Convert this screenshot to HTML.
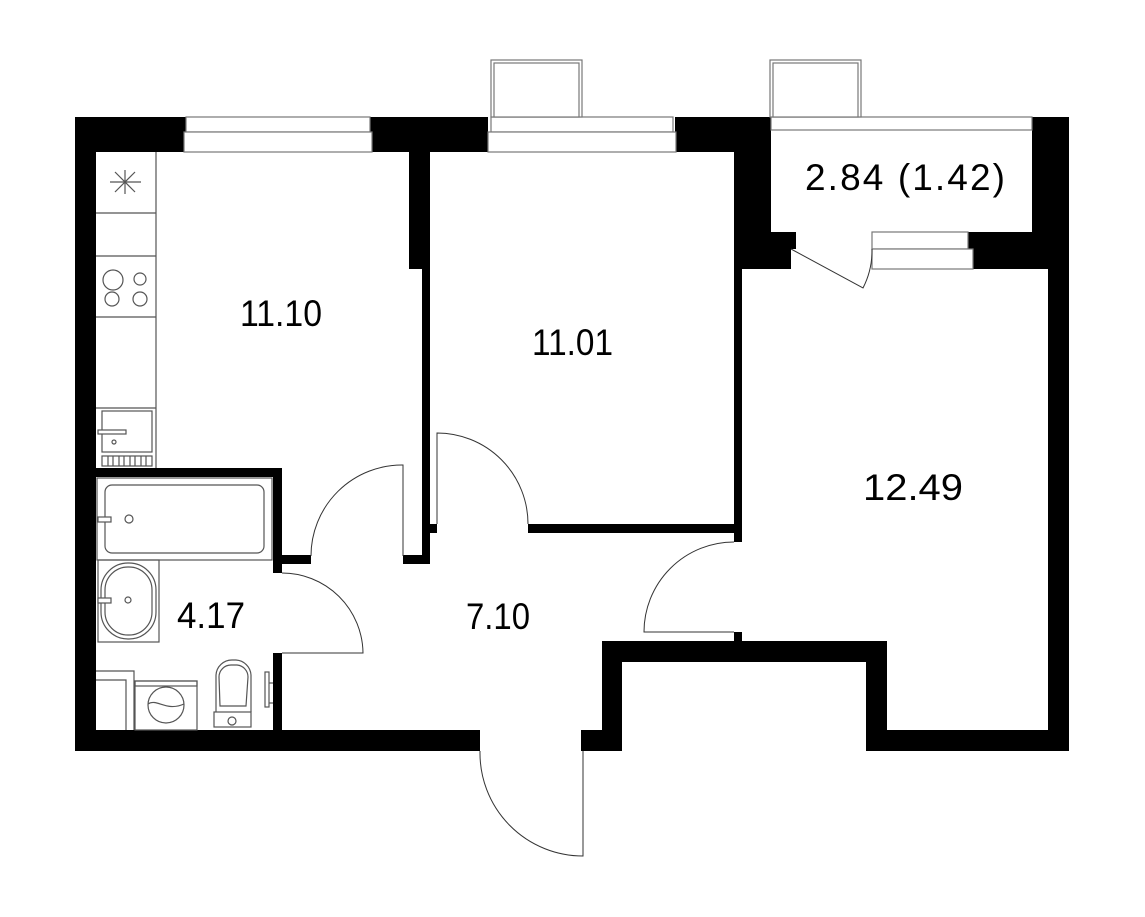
<!DOCTYPE html>
<html><head><meta charset="utf-8"><style>
html,body{margin:0;padding:0;background:#fff;}
svg{display:block;}
text{font-family:"Liberation Sans",sans-serif;font-size:37px;fill:#000;}
</style></head><body>
<svg width="1145" height="917" viewBox="0 0 1145 917" xmlns="http://www.w3.org/2000/svg">
<g fill="#000">
<rect x="75" y="117" width="21" height="634"/>
<rect x="75" y="117" width="111" height="35"/>
<rect x="370" y="117" width="118" height="35"/>
<rect x="675" y="117" width="96" height="35"/>
<rect x="409" y="152" width="21" height="117"/>
<rect x="422" y="152" width="8" height="412"/>
<rect x="403" y="555" width="27" height="9"/>
<rect x="430" y="524" width="7" height="9"/>
<rect x="528" y="524" width="214" height="9"/>
<rect x="734" y="152" width="8" height="390"/>
<rect x="734" y="152" width="37" height="80"/>
<rect x="734" y="232" width="62" height="17"/>
<rect x="734" y="249" width="57" height="20"/>
<rect x="1032" y="117" width="37" height="115"/>
<rect x="968" y="232" width="101" height="17"/>
<rect x="973" y="249" width="96" height="20"/>
<rect x="1048" y="269" width="21" height="482"/>
<rect x="734" y="632" width="8" height="10"/>
<rect x="602" y="641" width="285" height="21"/>
<rect x="602" y="641" width="20" height="110"/>
<rect x="866" y="641" width="21" height="110"/>
<rect x="866" y="730" width="203" height="21"/>
<rect x="75" y="730" width="405" height="21"/>
<rect x="581" y="730" width="41" height="21"/>
<rect x="96" y="468" width="186" height="9"/>
<rect x="273" y="468" width="9" height="105"/>
<rect x="273" y="555" width="38" height="9"/>
<rect x="273" y="653" width="9" height="77"/>
</g>
<g fill="#fff" stroke="#777" stroke-width="1.2">
<rect x="186" y="117" width="184" height="15"/>
<rect x="184" y="132" width="188" height="20"/>
<rect x="491" y="117" width="182" height="15"/>
<rect x="488" y="132" width="188" height="20"/>
<rect x="771" y="117" width="261" height="13"/>
<rect x="872" y="232" width="96" height="17"/>
<rect x="872" y="249" width="101" height="20"/>
<rect x="491" y="60" width="91" height="57"/>
<rect x="494" y="63" width="85" height="54"/>
<rect x="770" y="60" width="91" height="57"/>
<rect x="773" y="63" width="85" height="54"/>
</g>
<g fill="none" stroke="#333" stroke-width="1">
<path d="M403 556 L403 465 A91 91 0 0 0 311 556"/>
<path d="M437 524 L437 433 A91 91 0 0 1 528 524"/>
<path d="M282 573 A81 81 0 0 1 363 653 L282 653"/>
<path d="M734 542 A90 90 0 0 0 644 632 L734 632"/>
<path d="M583 751 L583 856 A103 103 0 0 1 480 751"/>
<path d="M791 249 L863 288 A82 82 0 0 0 872 249"/>
</g>
<g fill="none" stroke="#555" stroke-width="1.2">
<line x1="156" y1="152" x2="156" y2="468"/>
<line x1="96" y1="213" x2="156" y2="213"/>
<line x1="96" y1="256" x2="156" y2="256"/>
<line x1="96" y1="317" x2="156" y2="317"/>
<line x1="96" y1="408" x2="156" y2="408"/>
<line x1="110" y1="182" x2="141" y2="182"/>
<line x1="125" y1="170" x2="125" y2="194"/>
<line x1="115" y1="172" x2="135" y2="192"/>
<line x1="135" y1="172" x2="115" y2="192"/>
<circle cx="113" cy="280" r="10"/>
<circle cx="140" cy="279" r="6"/>
<circle cx="112" cy="299" r="7"/>
<circle cx="140" cy="299" r="7"/>
<rect x="102" y="411" width="50" height="41"/>
<rect x="98" y="430" width="28" height="4" fill="#fff"/>
<circle cx="114" cy="442" r="2"/>
<rect x="102" y="456" width="50" height="10"/>
<path d="M108 456v10M113 456v10M119 456v10M124 456v10M130 456v10M135 456v10M141 456v10M146 456v10"/>
<rect x="97" y="478" width="175" height="82"/>
<rect x="105" y="485" width="159" height="68" rx="7"/>
<rect x="98" y="517" width="13" height="5" fill="#fff"/>
<circle cx="129" cy="519" r="4"/>
<rect x="98" y="560" width="61" height="82"/>
<rect x="101" y="563" width="55" height="76" rx="27"/>
<rect x="105" y="567" width="47" height="68" rx="23"/>
<rect x="98" y="598" width="13" height="5" fill="#fff"/>
<circle cx="128" cy="600" r="3"/>
<polyline points="96,671 134,671 134,730"/>
<polyline points="96,680 126,680 126,730"/>
<rect x="135" y="681" width="62" height="49"/>
<rect x="135" y="681" width="62" height="5"/>
<circle cx="166" cy="705" r="18"/>
<path d="M148 704 C157 698 166 712 184 704"/>
<path d="M216 712 L216 675 A16 16 0 0 1 232 660 L236 660 A16 16 0 0 1 251 675 L251 712"/>
<path d="M220 706 L219 677 A12 12 0 0 1 231 665 L237 665 A12 12 0 0 1 248 677 L246 706 Z"/>
<rect x="214" y="712" width="37" height="15"/>
<circle cx="232" cy="721" r="4"/>
<rect x="265" y="672" width="4" height="35"/>
<line x1="269" y1="683" x2="273" y2="683"/>
<line x1="269" y1="703" x2="273" y2="703"/>
</g>
<text x="240" y="326" textLength="82" lengthAdjust="spacingAndGlyphs">11.10</text>
<text x="532" y="355" textLength="81" lengthAdjust="spacingAndGlyphs">11.01</text>
<text x="863" y="500" textLength="100" lengthAdjust="spacingAndGlyphs">12.49</text>
<text x="466" y="629" textLength="64" lengthAdjust="spacingAndGlyphs">7.10</text>
<text x="177" y="628" textLength="68" lengthAdjust="spacingAndGlyphs">4.17</text>
<text x="805" y="190" textLength="200" lengthAdjust="spacing">2.84 (1.42)</text>
</svg>
</body></html>
